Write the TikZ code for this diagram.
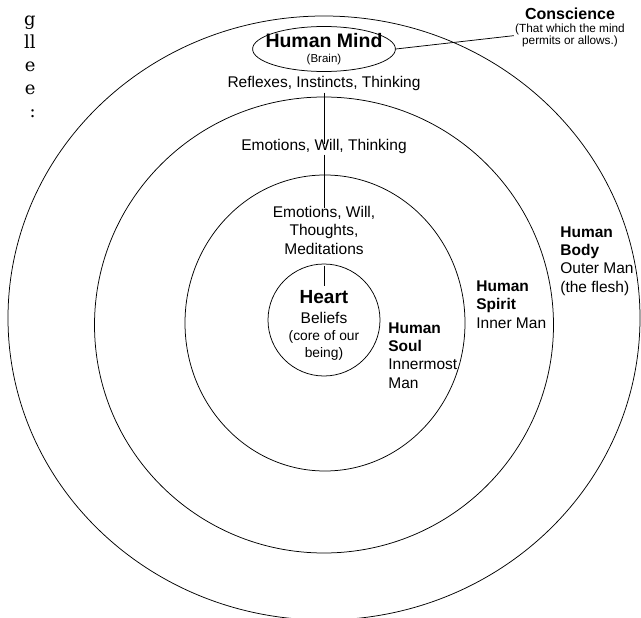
\documentclass[tikz,border=0pt]{standalone}
\usepackage{fontspec}
\setmainfont{Liberation Sans}
\newfontfamily\pageserif{DejaVu Serif}
\usetikzlibrary{shapes.geometric}

\begin{document}
\begin{tikzpicture}[x=1pt,y=-1pt,line width=.75pt,
  every node/.style={inner sep=1pt,font=\fontsize{15.5}{18.3}\selectfont},
  small/.style={font=\fontsize{11.8}{12.6}\selectfont},
  side/.style={anchor=base west,align=left}]
   \useasboundingbox (0,0) rectangle (641,618);
   % the rings, outside in
   \draw (324,318) ellipse [x radius=316pt,y radius=302pt];
   \draw (324,325) ellipse [x radius=229.5pt,y radius=228pt];
   \draw (325,323) ellipse [x radius=140pt,y radius=148pt];
   \draw (324,320) circle [radius=56pt];
   % cut page text on the left
   \node[anchor=north east,align=right,inner sep=0pt,font=\pageserif\fontsize{18}{23}\selectfont] (pagetext) at (36,16) {g\\ll\\e\\e\\:};
   \node[draw,ellipse,minimum height=42pt,inner xsep=-8pt,inner ysep=0pt,align=center] (mind) at (324,49)
      {\textbf{\fontsize{19.5}{20}\selectfont Human Mind}\\[-3pt]{\fontsize{11.5}{12}\selectfont (Brain)}};
   \node[anchor=base,font=\bfseries\fontsize{16}{18}\selectfont] (consc) at (570,20) {Conscience};
   % base anchor sits on the last line
   \node[anchor=base,align=center,small] (conscnote) at (570,45) {(That which the mind\\permits or allows.)};
   \node[anchor=base] (reflex) at (324,88) {Reflexes, Instincts, Thinking};
   \node[anchor=base] (emospirit) at (324,150) {Emotions, Will, Thinking};
   \node[anchor=base,align=center] (emosoul) at (324,254) {Emotions, Will,\\Thoughts,\\Meditations};
   \node[anchor=base,font=\bfseries\fontsize{19}{20}\selectfont] (heart) at (324,303) {Heart};
   \node[anchor=base,align=center,font=\fontsize{15.5}{17}\selectfont] (belief) at (324,357)
      {Beliefs\\{\fontsize{13.8}{16}\selectfont (core of our}\\{\fontsize{13.8}{16}\selectfont being)}};
   \node[side] (body) at (559,292) {\textbf{Human}\\\textbf{Body}\\Outer Man\\(the flesh)};
   \node[side] (spirit) at (475,328) {\textbf{Human}\\\textbf{Spirit}\\Inner Man};
   \node[side] (soul) at (387,388) {\textbf{Human}\\\textbf{Soul}\\Innermost\\Man};
   \draw (mind.east) -- (conscnote.west);
   \draw[shorten >=-6.5pt] (reflex) -- (emospirit);
   \draw[shorten >=-3pt] (emospirit) -- (emosoul);
   \draw[shorten <=10pt,shorten >=3pt] (emosoul) -- (heart);
\end{tikzpicture}
\end{document}
